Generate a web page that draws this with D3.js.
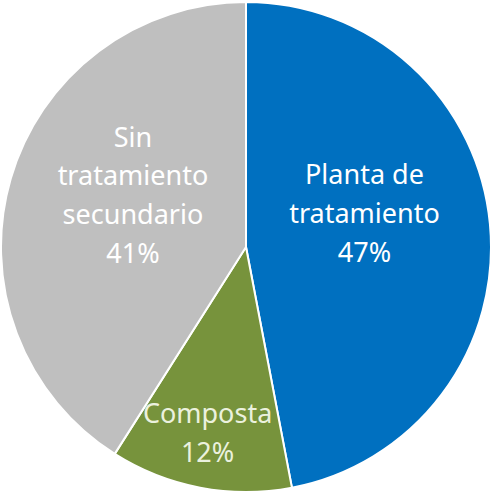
<!DOCTYPE html>
<html>
<head>
<meta charset="utf-8">
<script src="https://cdn.jsdelivr.net/npm/d3@7"></script>
<style>
  body { margin: 0; background: #fff; }
  svg { display: block; }
</style>
</head>
<body>
<div id="chart"></div>
<script>
// chart values
const categories = ["Planta de tratamiento", "Composta", "Sin tratamiento secundario"];
const labelLines = [["Planta de", "tratamiento"], ["Composta"], ["Sin", "tratamiento", "secundario"]];
const values = [47, 12, 41];
const colors = ["#0070C0", "#77933C", "#BFBFBF"];
const textColors = ["#ffffff", "#EBF1DE", "#ffffff"];

const width = 491, height = 492;
const cx = 246, cy = 247, radius = 245;

// where each label sits: radius of the centroid and a small nudge
const labelRadius = [123, 189, 124];
const labelNudge = [[-4, -22], [-3, 0], [6, -17]];

const svg = d3.select("#chart").append("svg")
    .attr("width", width)
    .attr("height", height);

const g = svg.append("g").attr("transform", `translate(${cx},${cy})`);

const pie = d3.pie().sort(null).value(d => d);
const arcs = pie(values);

const arc = d3.arc().innerRadius(0).outerRadius(radius);

g.selectAll("path.slice")
    .data(arcs)
    .join("path")
    .attr("class", "slice")
    .attr("d", arc)
    .attr("fill", (d, i) => colors[i])
    .attr("stroke", "#fff")
    .attr("stroke-width", 2)
    .attr("stroke-linejoin", "round");

const fontSize = 27, lineH = 38.8;

arcs.forEach((a, i) => {
    const lab = d3.arc().innerRadius(labelRadius[i]).outerRadius(labelRadius[i]);
    const [x, y] = lab.centroid(a);
    const lines = labelLines[i].concat([values[i] + "%"]);
    const x0 = x + labelNudge[i][0];
    const y0 = y + labelNudge[i][1] - (lines.length - 1) * lineH / 2;
    const t = g.append("text")
        .attr("text-anchor", "middle")
        .attr("font-family", "'Noto Sans', 'Open Sans', sans-serif")
        .attr("font-size", fontSize)
        .attr("fill", textColors[i]);
    lines.forEach((l, j) => {
        t.append("tspan")
            .attr("x", x0)
            .attr("y", y0 + j * lineH)
            .attr("dy", "0.35em")
            .text(l);
    });
});
</script>
</body>
</html>
